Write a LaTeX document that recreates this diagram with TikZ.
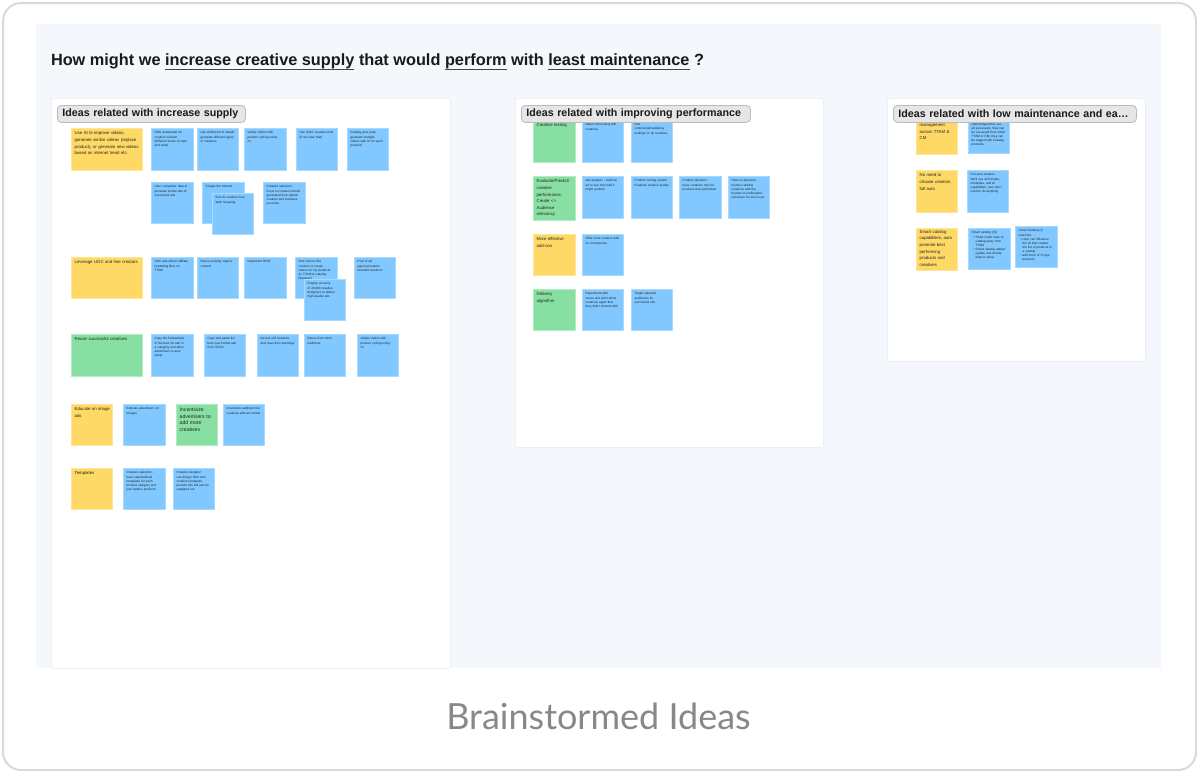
\documentclass[tikz,border=0pt]{standalone}
\usepackage{fontspec}
\setmainfont{Liberation Sans}
\newfontfamily\capfont{Lato}
\definecolor{ulc}{HTML}{444444}
\definecolor{titlecol}{HTML}{1A1A1A}
\definecolor{canvascol}{HTML}{F4F8FD}
\definecolor{paneledge}{HTML}{E6EAEF}
\definecolor{labfill}{HTML}{E6E6E6}
\definecolor{labedge}{HTML}{BBBBBB}
\definecolor{nblue}{HTML}{80C8FF}
\definecolor{nblueedge}{HTML}{A8D9FF}
\definecolor{nyellow}{HTML}{FFD966}
\definecolor{nyellowedge}{HTML}{FFE59A}
\definecolor{ngreen}{HTML}{87E0A1}
\definecolor{ngreenedge}{HTML}{B3ECC3}
\definecolor{capgray}{HTML}{888888}
\definecolor{cardedge}{HTML}{DADADA}
\definecolor{notetext}{HTML}{222222}
\newcommand{\nohyph}{\hyphenpenalty=10000\exhyphenpenalty=10000}
\tikzset{
  notebox/.style={anchor=north west, inner sep=0pt, outer sep=0pt, line width=0.7pt},
  bnote/.style={notebox, fill=nblue, draw=nblueedge},
  ynote/.style={notebox, fill=nyellow, draw=nyellowedge},
  gnote/.style={notebox, fill=ngreen, draw=ngreenedge},
  btext/.style={anchor=north west, inner sep=0pt, align=left, text width=34pt, text=notetext, font=\nohyph\fontsize{3.1}{4.1}\selectfont},
  ytext/.style={anchor=north west, inner sep=0pt, align=left, text width=40pt, text=notetext, font=\nohyph\fontsize{4.3}{6.6}\selectfont},
  ywtext/.style={ytext, text width=68pt},
  ybigtext/.style={ytext, font=\nohyph\fontsize{5.1}{6.7}\selectfont},
  panelbox/.style={anchor=north west, inner sep=0pt, fill=white, draw=paneledge, line width=0.6pt, rounded corners=2pt},
  labbox/.style={anchor=north west, rounded corners=4pt, fill=labfill, draw=labedge, line width=0.8pt, minimum height=17pt, inner xsep=5pt, inner ysep=0pt, align=left, font=\nohyph\bfseries\fontsize{10.7}{12}\selectfont, text=titlecol},
  titlepart/.style={anchor=base west, inner sep=0pt, outer sep=0pt, font=\bfseries\fontsize{16.3}{19}\selectfont, text=titlecol},
  ulinestyle/.style={draw=ulc, line width=1.2pt},
}
\newcommand{\sticky}[8]{%
  \node[#2, minimum width=#5pt, minimum height=#6pt] (#1) at (#3,#4) {};
  \node[#7] (#1t) at ([xshift=3.5pt, yshift=-3.5pt]#1.north west) {#8};}
\begin{document}
\begin{tikzpicture}[x=1pt,y=-1pt]
\useasboundingbox (0,0) rectangle (1197,771);
\fill[white] (0,0) rectangle (1197,771);
% card
\node[anchor=north west, inner sep=0pt, minimum width=1193pt, minimum height=767pt, rounded corners=18pt, draw=cardedge, line width=2pt, fill=white] (card) at (2,2) {};
% canvas
\node[anchor=north west, inner sep=0pt, minimum width=1125pt, minimum height=644pt, fill=canvascol] (canvas) at (36,24) {};
% title
\node[titlepart] (t1) at (51,65) {How might we\ \mbox{}};
\node[titlepart] (u1) at (t1.base east) {increase creative supply};
\node[titlepart] (t2) at (u1.base east) {\ that would\ \mbox{}};
\node[titlepart] (u2) at (t2.base east) {perform};
\node[titlepart] (t3) at (u2.base east) {\ with\ \mbox{}};
\node[titlepart] (u3) at (t3.base east) {least maintenance};
\node[titlepart] (t4) at (u3.base east) {\ ?};
\draw[ulinestyle] ([yshift=-4.4pt]u1.base west) -- ([yshift=-4.4pt]u1.base east);
\draw[ulinestyle] ([yshift=-4.4pt]u2.base west) -- ([yshift=-4.4pt]u2.base east);
\draw[ulinestyle] ([yshift=-4.4pt]u3.base west) -- ([yshift=-4.4pt]u3.base east);
% panels
\node[panelbox, minimum width=399pt, minimum height=570pt] (P1) at (51,98) {};
\node[panelbox, minimum width=308pt, minimum height=349pt] (P2) at (515,98) {};
\node[panelbox, minimum width=258pt, minimum height=263pt] (P3) at (887,98) {};

% ---------- panel 1 ----------
\sticky{a1}{ynote}{71}{128}{71}{42}{ywtext}{Use AI to improve videos,\\ generate similar videos (replace\\ product), or generate new videos\\ based on internet trend etc.}
\sticky{a2}{bnote}{151}{128}{42}{42}{btext}{Offer automated ad creation solution (different levels of input and tools)}
\sticky{a3}{bnote}{197}{128}{41}{42}{btext}{Use AI/Recom to tweak/ generate different types of creatives}
\sticky{a4}{bnote}{244}{128}{42}{42}{btext}{similar videos with product cycling using AI}
\sticky{a5}{bnote}{296}{128}{41}{42}{btext}{Use AIGC creative tools (if we have that)}
\sticky{a6}{bnote}{347}{128}{41}{42}{btext}{Catalog plus (auto generate multiple videos with AI for each product)}

\sticky{b1}{bnote}{151}{182}{42}{41}{btext}{User competitor data to generate similar ads of successful ads}
\sticky{b2}{bnote}{202}{182}{42}{41}{btext}{Scrape the internet}
\sticky{b3}{bnote}{212}{193}{41}{41}{btext}{Gen AI creative from Web Scraping}
\sticky{b4}{bnote}{263}{182}{42}{41}{btext}{Creative selection - focus on creative trends generated from topical creators and business accounts}

\sticky{c1}{ynote}{71}{257}{71}{41}{ywtext}{Leverage UGC and hire creators}
\sticky{c2}{bnote}{151}{257}{42}{41}{btext}{UGC ads (direct affiliate marketing like) on TTAM}
\sticky{c3}{bnote}{197}{257}{41}{41}{btext}{Reuse existing organic content}
\sticky{c4}{bnote}{244}{257}{42}{41}{btext}{Implement ROI3}
\sticky{c5}{bnote}{295}{257}{42}{41}{btext}{One click to hire creators to create videos for my products (ie TTAM \& Catalog Manager)}
\sticky{c6}{bnote}{304}{279}{41}{41}{btext}{Employ an army of 20,000 creative designers to deliver high quality ads}
\sticky{c7}{bnote}{354}{257}{41}{41}{btext}{Pool of ad agency/creators branded solutions}

\sticky{d1}{gnote}{71}{334}{71}{42}{ywtext}{Reuse successful creatives}
\sticky{d2}{bnote}{151}{334}{42}{42}{btext}{Copy the format/style of the best 20 ads in a category and allow advertisers to auto adopt}
\sticky{d3}{bnote}{204}{334}{41}{42}{btext}{Copy and paste the best new format ads from TikTok}
\sticky{d4}{bnote}{257}{334}{41}{42}{btext}{Re-use old creatives and reset their learnings}
\sticky{d5}{bnote}{304}{334}{41}{42}{btext}{Reuse from other platforms}
\sticky{d6}{bnote}{357}{334}{41}{42}{btext}{similar videos with product cycling using AI}

\sticky{e1}{ynote}{71}{404}{41}{41}{ytext}{Educate on image\\ ads}
\sticky{e2}{bnote}{123}{404}{42}{41}{btext}{Educate advertisers on Images}
\sticky{e3}{gnote}{176}{404}{41}{41}{ybigtext}{Incentivize\\ advertisers to\\ add more\\ creatives}
\sticky{e4}{bnote}{223}{404}{41}{41}{btext}{Incentivize adding more creatives with ad credits}

\sticky{f1}{ynote}{71}{468}{41}{41}{ytext}{Templates}
\sticky{f2}{bnote}{123}{468}{42}{41}{btext}{Creative selection - have standardized templates for each product category and just replace products}
\sticky{f3}{bnote}{173}{468}{41}{41}{btext}{Creative designer can design their own creative templates, product info will just be swapped out}

% ---------- panel 2 ----------
\sticky{g1}{gnote}{533}{120}{42}{42}{ytext}{Creative testing}
\sticky{g2}{bnote}{582}{120}{41}{42}{btext}{Native AB testing with creatives}
\sticky{g3}{bnote}{631}{120}{41}{42}{btext}{Run continuing/mandatory testings on all creatives}

\sticky{h1}{gnote}{533}{176}{42}{44}{ytext}{Evaluate/Predict/\\ creative\\ performance,\\ Create <>\\ Audience\\ relevancy}
\sticky{h2}{bnote}{582}{176}{41}{42}{btext}{ads analysis - build an ad to see how well it might perform}
\sticky{h3}{bnote}{631}{176}{41}{42}{btext}{Product scoring system Evaluate creative quality}
\sticky{h4}{bnote}{679}{176}{42}{42}{btext}{Product selection - have creatives only for products that performed}
\sticky{h5}{bnote}{728}{176}{41}{42}{btext}{Have a relevance metrics ranking creatives with the themes to understand relevance for each user}

\sticky{i1}{ynote}{533}{234}{42}{41}{ytext}{More effective\\ add-ons}
\sticky{i2}{bnote}{582}{234}{41}{41}{btext}{Offer more creative add on components}

\sticky{j1}{gnote}{533}{289}{42}{41}{ytext}{Delivery\\ algorithm}
\sticky{j2}{bnote}{582}{289}{41}{41}{btext}{Experiment with seven and don't show creatives again that they didn't interact with}
\sticky{j3}{bnote}{631}{289}{41}{41}{btext}{Target selected audiences for successful ads}

% ---------- panel 3 ----------
\node[ynote, minimum width=41pt, minimum height=42pt] (k1) at (916,112) {};
\node[ytext] (k1t) at (919.5,123.5) {management\\ across TTAM \&\\ CM};
\node[bnote, minimum width=41pt, minimum height=41pt] (k2) at (968,112) {};
\node[btext] (k2t) at (971.5,123) {UGC/Image/UGC are all just assets, they can be accessed from either TTAM or CM, they can be tagged with Catalog products.};

\sticky{l1}{ynote}{916}{170}{41}{42}{ytext}{No need to\\ choose creative,\\ full auto}
\sticky{l2}{bnote}{967}{170}{41}{42}{btext}{Full auto creative. We'll use all formats, templates, and AI capabilities, user don't need to do anything}

\node[ynote, minimum width=41pt, minimum height=42pt] (m1) at (916,228) {};
\node[ytext] (m1t) at (919.5,230) {Smart catalog\\ capabilities; auto\\ promote best\\ performing\\ products and\\ creatives};
\sticky{m2}{bnote}{968}{228}{42}{41}{btext}{Smart catalog (3t)\par\leftskip=4pt\noindent\llap{•\hspace{1pt}}Show smart ones to catalog away from TTAM\par\noindent\llap{•\hspace{1pt}}Smart catalog always update and decide what to show\par}
\sticky{m3}{bnote}{1015}{226}{42}{41}{btext}{Smart Catalog (in exercise)\par\leftskip=4pt\noindent\llap{•\hspace{1pt}}User can influence the AI that creates the list of products in a catalog\par\noindent\llap{•\hspace{1pt}}add more of X type products\par}

% labels
\node[labbox, text width=178pt] (L1) at (57,105) {Ideas related with increase supply};
\node[labbox, text width=219pt] (L2) at (521,105) {Ideas related with improving performance};
\node[labbox, text width=233pt] (L3) at (893,105) {Ideas related with low maintenance and ea…};

% caption
\node[font=\capfont\fontsize{36}{42}\selectfont, text=capgray] (cap) at (598.5,716) {Brainstormed Ideas};
\end{tikzpicture}
\end{document}
